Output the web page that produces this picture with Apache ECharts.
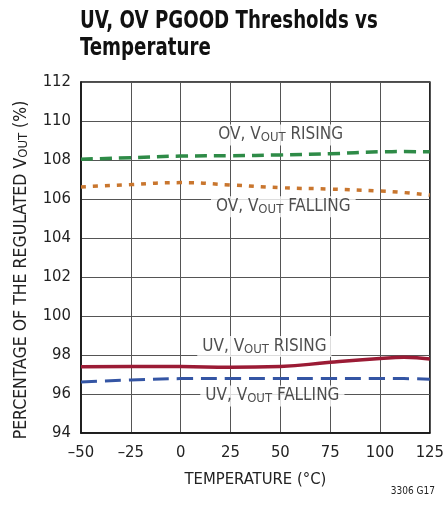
<!DOCTYPE html>
<html><head><meta charset="utf-8">
<script src="https://cdn.jsdelivr.net/npm/echarts@6/dist/echarts.min.js"></script>
<style>html,body{margin:0;padding:0;background:#fff}#c{width:447px;height:506px}</style>
</head><body><div id="c"></div>
<script>
var temps = [-50, -25, 0, 25, 50, 75, 100, 112, 125];
var ovRising  = [108.04, 108.12, 108.20, 108.22, 108.26, 108.32, 108.42, 108.43, 108.42];
var ovFalling = [106.62, 106.74, 106.84, 106.72, 106.58, 106.51, 106.41, 106.33, 106.20];
var uvRising  = [97.40, 97.41, 97.41, 97.37, 97.41, 97.63, 97.82, 97.88, 97.80];
var uvFalling = [96.62, 96.72, 96.79, 96.80, 96.80, 96.80, 96.80, 96.79, 96.76];
var yTicks = [94, 96, 98, 100, 102, 104, 106, 108, 110, 112];
var xTicks = [-50, -25, 0, 25, 50, 75, 100, 125];
var notes = [
  {name: 'OV', suffix: 'RISING', t: 50.2, v: 109.28},
  {name: 'OV', suffix: 'FALLING', t: 51.5, v: 105.6},
  {name: 'UV', suffix: 'RISING', t: 42, v: 98.43},
  {name: 'UV', suffix: 'FALLING', t: 46, v: 95.9}
];
var FONT = '"Liberation Sans Narrow","DejaVu Sans Condensed",sans-serif';
function pairs(arr){ return temps.map(function(t,i){ return [t, arr[i]]; }); }
var chart = echarts.init(document.getElementById('c'));
chart.setOption({
  animation: false,
  backgroundColor: '#fff',
  textStyle: {fontFamily: FONT},
  graphic: [
    {type: 'text', x: 80, y: 9, scaleX: 0.88, scaleY: 1.05,
     style: {text: 'UV, OV PGOOD Thresholds vs\nTemperature', font: 'bold 23px ' + FONT, lineHeight: 25, fill: '#111'}},
    {type: 'text', x: 21, y: 270, rotation: Math.PI / 2,
     style: {text: '{a|PERCENTAGE OF THE REGULATED V}{s|OUT}{a| (%)}', align: 'center', verticalAlign: 'middle',
       rich: {a: {fontFamily: FONT, fontSize: 17.5, fill: '#222', color: '#222'},
              s: {fontFamily: FONT, fontSize: 13, fill: '#222', color: '#222', padding: [6,0,0,0]}}}},
    {type: 'text', right: 12, top: 486,
     style: {text: '3306 G17', font: '10px ' + FONT, fill: '#222'}}
  ],
  grid: {left: 81, top: 82, width: 351, height: 351, show: true, borderColor: '#111', borderWidth: 1.5, backgroundColor: 'transparent'},
  xAxis: {
    type: 'value', min: -50, max: 125, interval: 25,
    name: 'TEMPERATURE (°C)', nameLocation: 'middle', nameGap: 38,
    nameTextStyle: {fontFamily: FONT, fontSize: 16.5, color: '#222'},
    axisLine: {show: true, onZero: false, lineStyle: {color: '#111', width: 1.5}},
    axisTick: {show: false},
    axisLabel: {fontFamily: FONT, fontSize: 16.5, color: '#222', margin: 11,
      formatter: function(v){ return String(v).replace('-', '\u2013'); }},
    splitLine: {show: true, lineStyle: {color: '#555', width: 1}}
  },
  yAxis: {
    type: 'value', min: 94, max: 112, interval: 2,
    axisLine: {show: true, onZero: false, lineStyle: {color: '#111', width: 1.5}},
    axisTick: {show: false},
    axisLabel: {fontFamily: FONT, fontSize: 16.5, color: '#222', margin: 10},
    splitLine: {show: true, lineStyle: {color: '#555', width: 1}}
  },
  series: [
    {type: 'line', data: pairs(ovRising), smooth: true, symbol: 'none',
     lineStyle: {color: '#2e8b47', width: 3.5, type: [12, 7]}},
    {type: 'line', data: pairs(ovFalling), smooth: true, symbol: 'none',
     lineStyle: {color: '#c9762e', width: 3.5, type: [5, 7]}},
    {type: 'line', data: pairs(uvRising), smooth: true, symbol: 'none',
     lineStyle: {color: '#9b1b35', width: 3.5}},
    {type: 'line', data: pairs(uvFalling), smooth: true, symbol: 'none',
     lineStyle: {color: '#3455a4', width: 3, type: [16, 8]}},
    {type: 'scatter', symbolSize: 0, silent: true, z: 10,
     data: notes.map(function(n){ return {value: [n.t, n.v], name: n.name, suffix: n.suffix}; }),
     label: {show: true, position: 'inside', backgroundColor: '#fff', padding: [1, 5, 1, 5], color: '#222',
       formatter: function(p){ return '{a|' + p.data.name + ', V}{s|OUT}{a| ' + p.data.suffix + '}'; },
       rich: {a: {fontFamily: FONT, fontSize: 17, color: '#222'}, s: {fontFamily: FONT, fontSize: 13, color: '#222', padding: [6,0,0,0]}}}
    }
  ]
});
</script></body></html>
